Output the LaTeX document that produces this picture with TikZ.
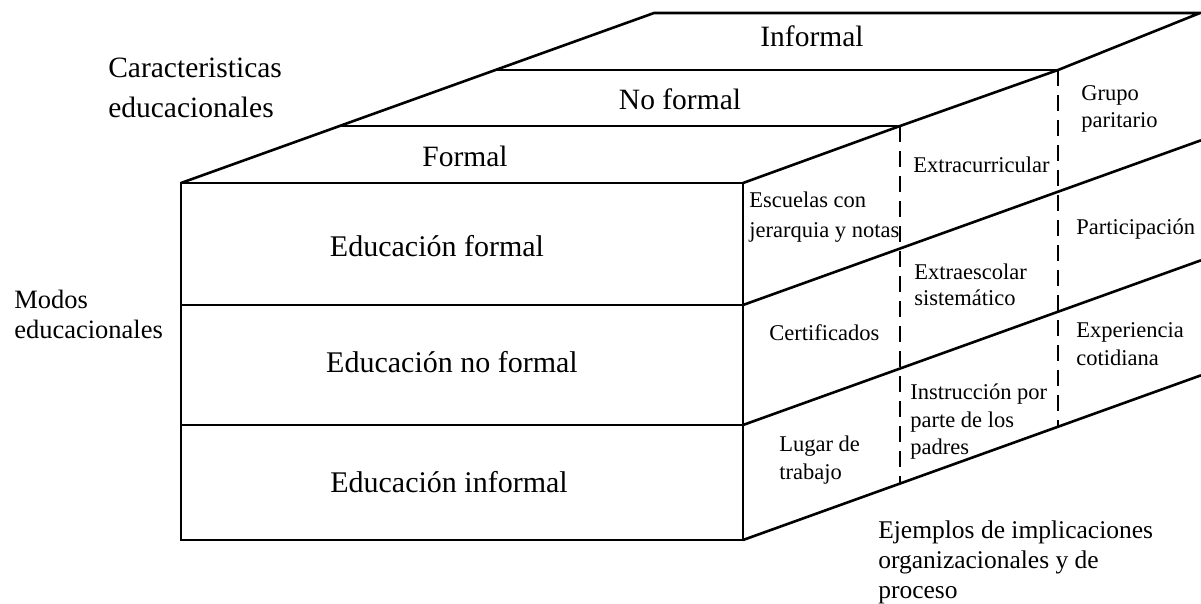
\documentclass[tikz,border=0pt]{standalone}
\usepackage{fontspec}
\setmainfont{Liberation Serif}
\begin{document}
\begin{tikzpicture}[x=1pt,y=-1pt,line width=2.6pt,
  solidline/.style={draw=black},
  dashline/.style={draw=black,dash pattern=on 16pt off 9pt},
  biglabel/.style={font=\fontsize{29.5}{34}\selectfont,inner sep=0pt,anchor=base},
  edulabel/.style={font=\fontsize{30}{34}\selectfont,inner sep=0pt,anchor=base},
  sidelabel/.style={font=\fontsize{29.5}{34}\selectfont,inner sep=0pt,anchor=base west},
  smalllabel/.style={font=\fontsize{22.5}{27}\selectfont,inner sep=0pt,anchor=base west},
  modolabel/.style={font=\fontsize{26.5}{30}\selectfont,inner sep=0pt,anchor=base west},
  ejlabel/.style={font=\fontsize{25.5}{30}\selectfont,inner sep=0pt,anchor=base west}]
\useasboundingbox (0,0) rectangle (1201,603);
\clip (0,0) rectangle (1201,603);
% front face
\coordinate (FL) at (181,183);
\coordinate (FR) at (743,183);
\coordinate (M1L) at (181,305);
\coordinate (M1R) at (743,305);
\coordinate (M2L) at (181,425);
\coordinate (M2R) at (743,425);
\coordinate (BL) at (181,540);
\coordinate (BR) at (743,540);
% top face
\coordinate (T1L) at (339.6,126);
\coordinate (T1R) at (900,126);
\coordinate (T2L) at (495.4,70);
\coordinate (T2R) at (1058,70);
\coordinate (TBL) at (654,13);
\coordinate (TBR) at (1200,13);
% right face ends (cut by the picture edge)
\coordinate (R1) at (1201,140.3);
\coordinate (R2) at (1201,260.3);
\coordinate (R3) at (1201,375.3);
% dashed dividers
\coordinate (D1B) at (900,484);
\coordinate (D2B) at (1058,427);

\draw[solidline] (FL) -- (FR) -- (BR) -- (BL) -- cycle;
\draw[solidline] (M1L) -- (M1R);
\draw[solidline] (M2L) -- (M2R);
\draw[solidline] (FL) -- (TBL) -- (TBR) -- (T2R) -- (T1R) -- (FR);
\draw[solidline] (T1L) -- (T1R);
\draw[solidline] (T2L) -- (T2R);
\draw[solidline] (M1R) -- (R1);
\draw[solidline] (M2R) -- (R2);
\draw[solidline] (BR) -- (R3);
\draw[dashline] (T1R) -- (D1B);
\draw[dashline] (T2R) -- (D2B);

% top face labels
\node[biglabel] (inf) at (812,46) {Informal};
\node[biglabel] (nof) at (680,109) {No formal};
\node[biglabel] (for) at (465,166) {Formal};
\node[sidelabel] (car1) at (107,77) {Caracteristicas};
\node[sidelabel] (car2) at (107,117) {educacionales};
% front face labels
\node[edulabel] (ef) at (437,256) {Educación formal};
\node[edulabel] (enf) at (452,372) {Educación no formal};
\node[edulabel] (ei) at (449,492) {Educación informal};
\node[modolabel] (mod1) at (13,308) {Modos};
\node[modolabel] (mod2) at (13,338) {educacionales};
% side face labels
\node[smalllabel] (esc1) at (748,207) {Escuelas con};
\node[smalllabel] (esc2) at (748,237) {jerarquia y notas};
\node[smalllabel] (cert) at (768,340) {Certificados};
\node[smalllabel] (lug1) at (778,451) {Lugar de};
\node[smalllabel] (lug2) at (778,479) {trabajo};
\node[smalllabel] (extc) at (912,172) {Extracurricular};
\node[smalllabel] (exte1) at (913,279) {Extraescolar};
\node[smalllabel] (exte2) at (913,305) {sistemático};
\node[smalllabel] (ins1) at (909,399) {Instrucción por};
\node[smalllabel] (ins2) at (909,427) {parte de los};
\node[smalllabel] (ins3) at (909,454) {padres};
\node[smalllabel] (gru1) at (1080,100) {Grupo};
\node[smalllabel] (gru2) at (1080,127) {paritario};
\node[smalllabel] (par) at (1075,234) {Participación};
\node[smalllabel] (exp1) at (1075,337) {Experiencia};
\node[smalllabel] (exp2) at (1075,365) {cotidiana};
% bottom label
\node[ejlabel] (ej1) at (877,538) {Ejemplos de implicaciones};
\node[ejlabel] (ej2) at (877,568) {organizacionales y de};
\node[ejlabel] (ej3) at (877,598) {proceso};
\end{tikzpicture}
\end{document}
